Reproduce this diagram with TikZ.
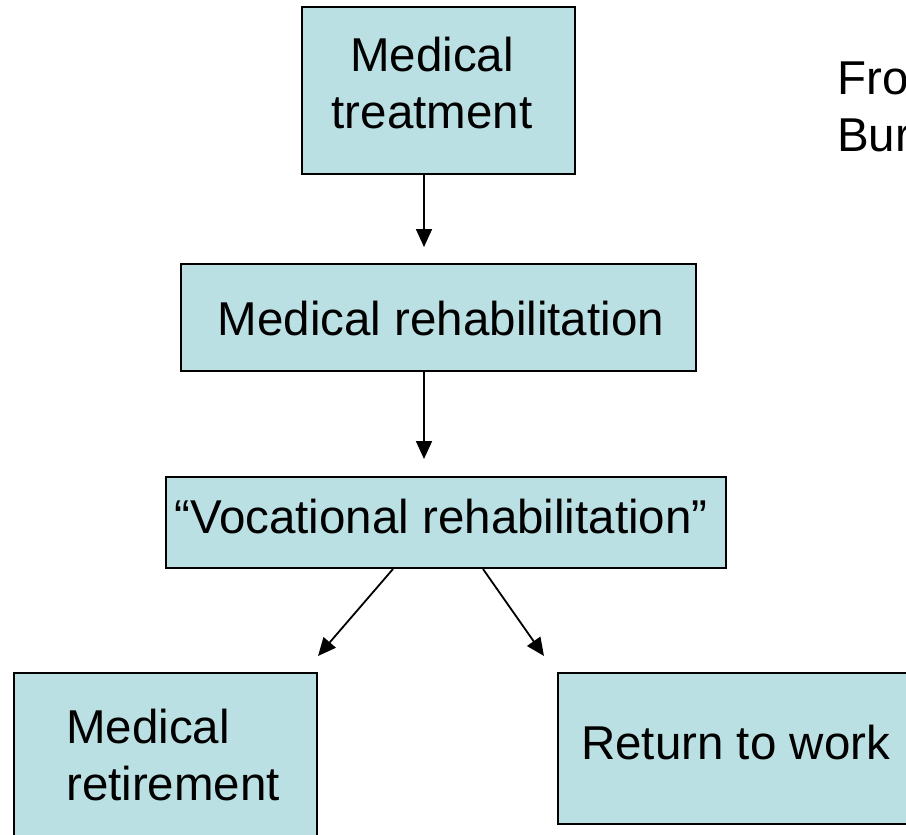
\documentclass[tikz,border=0pt]{standalone}
\usepackage{fontspec}
\setmainfont{Liberation Sans}
\usepackage{xcolor}
\usetikzlibrary{calc, arrows.meta}
\definecolor{stagefill}{RGB}{187,224,227}
\tikzset{
  stage/.style={rectangle, draw=black, line width=2pt, fill=stagefill, inner sep=0pt},
  lbl/.style={inner sep=0pt, font=\fontsize{47.5}{57}\selectfont},
  flow/.style={line width=1.8pt, -{Triangle[length=18pt,width=16pt]}}
}

\begin{document}
\begin{tikzpicture}[x=1pt, y=-1pt]
        \useasboundingbox (0,0) rectangle (906,835);
        % boxes
        \node[stage, minimum width=273, minimum height=167] (treat) at (438.5,90.5) {};
        \node[stage, minimum width=515, minimum height=107] (medrehab) at (438.5,317.5) {};
        \node[stage, minimum width=560, minimum height=91] (vocrehab) at (446,522.5) {};
        \node[stage, minimum width=303, minimum height=177] (retire) at (165.5,761.5) {};
        \node[stage, minimum width=362, minimum height=151] (rtw) at (739,748.5) {};
        % texts (base = last line)
        \node[lbl, align=center, anchor=base] (treat-t) at (432,128) {Medical\\treatment};
        \node[lbl, anchor=base] (medrehab-t) at (441,335) {Medical rehabilitation};
        \node[lbl, anchor=base] (vocrehab-t) at (441,533) {``Vocational rehabilitation''};
        \node[lbl, align=left, anchor=base west] (retire-t) at (66,800) {Medical\\retirement};
        \node[lbl, anchor=base west] (rtw-t) at (581,759) {Return to work};
        \node[lbl, align=left, anchor=base west] (src) at (837,151) {Fro\\Bur};
        % arrows
        \coordinate (ax) at (424,0);
        \coordinate (tipL) at ($ (retire.north east) + (0,-16) $);
        \coordinate (tipR) at ($ (rtw.north west) + (-13,-16) $);
        \draw[flow, shorten >=16pt] (ax |- treat.south) -- (ax |- medrehab.north);
        \draw[flow, shorten >=17pt] (ax |- medrehab.south) -- (ax |- vocrehab.north);
        \draw[flow] ($ (vocrehab.south) + (-53,0) $) -- (tipL);
        \draw[flow] ($ (vocrehab.south) + (37,0) $) -- (tipR);
    \end{tikzpicture}
\end{document}
